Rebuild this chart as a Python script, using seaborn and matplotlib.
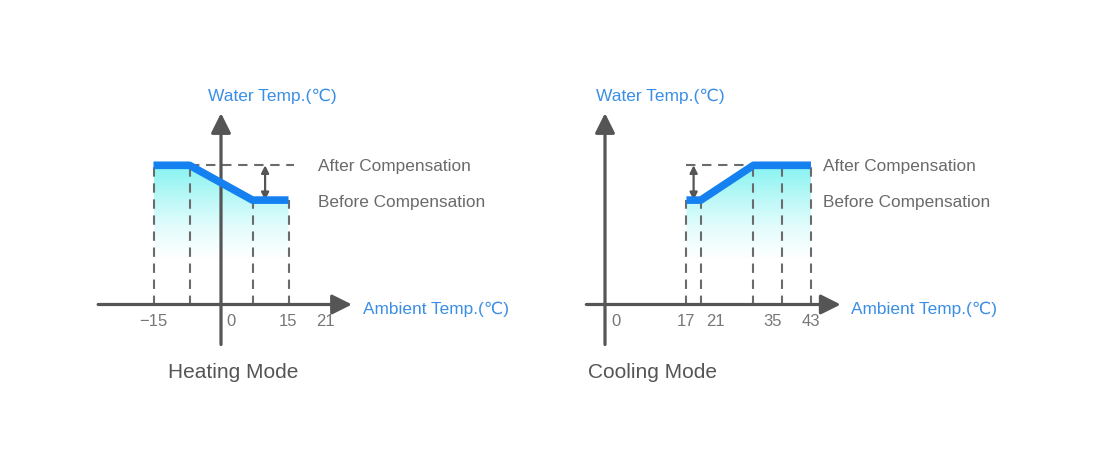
import numpy as np
import seaborn as sns
import matplotlib.pyplot as plt
from matplotlib.colors import LinearSegmentedColormap

# Heating mode: ambient temp (C) vs relative water temp level
heat_x = [-15, -7, 7, 15]
heat_level = [4.0, 4.0, 3.0, 3.0]
heat_guides = [-15, -7, 7, 15]
heat_ticks = [-15, 0, 15, 21]
heat_tick_labels = ['\u221215', '0', '15', '21']

# Cooling mode
cool_x = [17, 20, 31, 43]
cool_level = [3.0, 3.0, 4.0, 4.0]
cool_guides = [17, 20, 31, 37, 43]
cool_ticks = [0, 17, 21, 35, 43]
cool_tick_labels = ['0', '17', '21', '35', '43']

W, H = 1100, 464
AXIS_C = '#555555'
GUIDE_C = '#6b6b6b'
CURVE_C = '#1580f0'
BLUE_TXT = '#3a8ee6'
GRAY_TXT = '#6a6a6a'
FONT = ['Liberation Sans', 'DejaVu Sans']

sns.set_theme(style='white')
plt.rcParams['font.family'] = FONT

fig = plt.figure(figsize=(W / 100, H / 100), dpi=100)

fade = LinearSegmentedColormap.from_list('fade', ['#ffffff', '#e4fcfc', '#b8f8f7', '#86f3f1'])

# labels of these ticks sit a little right of the tick itself
label_nudge = {0: 2.2, 21: 2.1}


def make_axes(x0_px, sx, left_px, right_px, y0_px=305.5, sy=34.8):
    ax = fig.add_axes([left_px / W, 0, (right_px - left_px) / W, 1])
    ax.set_xlim((left_px - x0_px) / sx, (right_px - x0_px) / sx)
    ax.set_ylim(-(H - y0_px) / sy, y0_px / sy)
    ax.axis('off')
    return ax


def draw_panel(ax, xs, levels, guides, ticks, tick_labels, xaxis, yaxis_top,
               span, arrow_x, title, pos):
    # gradient fill under the curve
    poly = ax.fill_between(xs, levels, 0, color='none')
    grad = np.linspace(0, 1, 256).reshape(-1, 1)
    img = ax.imshow(grad, cmap=fade, origin='lower', aspect='auto',
                    extent=[min(xs), max(xs), 1.3, max(levels)], zorder=1)
    img.set_clip_path(poly.get_paths()[0], transform=ax.transData)

    # dashed guides from the ambient axis to the curve
    for g in guides:
        ax.plot([g, g], [0, np.interp(g, xs, levels)], color=GUIDE_C, lw=1.5,
                ls=(0, (4.5, 3.2)), zorder=2)
    ax.plot(span, [max(levels)] * 2, color=GUIDE_C, lw=1.5, ls=(0, (4.5, 3.2)), zorder=2)

    # compensation arrow
    ax.annotate('', xy=(arrow_x, max(levels)), xytext=(arrow_x, min(levels)),
                arrowprops=dict(arrowstyle='<|-|>', color=AXIS_C, lw=1.6,
                                mutation_scale=11, shrinkA=0, shrinkB=0), zorder=3)

    # axes with arrow heads
    arrow = dict(arrowstyle='-|>,head_length=0.6,head_width=0.3', color=AXIS_C,
                 lw=2.3, mutation_scale=20, shrinkA=0, shrinkB=0)
    ax.annotate('', xy=(xaxis[1], 0), xytext=(xaxis[0], 0), arrowprops=arrow, zorder=4)
    ax.annotate('', xy=(0, yaxis_top), xytext=(0, -1.15), arrowprops=arrow, zorder=4)

    # compensation curve
    sns.lineplot(x=xs, y=levels, ax=ax, color=CURVE_C, lw=5.5, sort=False,
                 solid_capstyle='butt', zorder=5)

    for t, lab in zip(ticks, tick_labels):
        ax.text(t + label_nudge.get(t, 0), -0.45, lab, ha='center', va='center',
                fontsize=12, color='#777777')

    ax.text(pos['after'], 4.0, 'After Compensation', ha='left', va='center',
            fontsize=12.4, color=GRAY_TXT)
    ax.text(pos['after'], 2.97, 'Before Compensation', ha='left', va='center',
            fontsize=12.4, color=GRAY_TXT)
    ax.text(pos['water'], 6.0, 'Water Temp.(\u2103)', ha='left', va='center',
            fontsize=12.5, color=BLUE_TXT)
    ax.text(pos['ambient'], -0.1, 'Ambient Temp.(\u2103)', ha='left', va='center',
            fontsize=12.4, color=BLUE_TXT)
    ax.text(pos['mode'], -1.92, title, ha='left', va='center',
            fontsize=15, color='#555555')


ax_heat = make_axes(221, 4.5, 40, 540)
draw_panel(ax_heat, heat_x, heat_level, heat_guides, heat_ticks, heat_tick_labels,
           xaxis=(-27.3, 29.1), yaxis_top=5.5, span=(-7, 16.2), arrow_x=9.8,
           title='Heating Mode',
           pos=dict(after=21.6, water=-2.9, ambient=31.6, mode=-11.8))

ax_cool = make_axes(605, 4.79, 560, 1060)
draw_panel(ax_cool, cool_x, cool_level, cool_guides, cool_ticks, cool_tick_labels,
           xaxis=(-3.9, 49.2), yaxis_top=5.5, span=(17, 31), arrow_x=18.5,
           title='Cooling Mode',
           pos=dict(after=45.5, water=-1.9, ambient=51.3, mode=-3.5))

fig.savefig('out.png', dpi=100, facecolor='white')
